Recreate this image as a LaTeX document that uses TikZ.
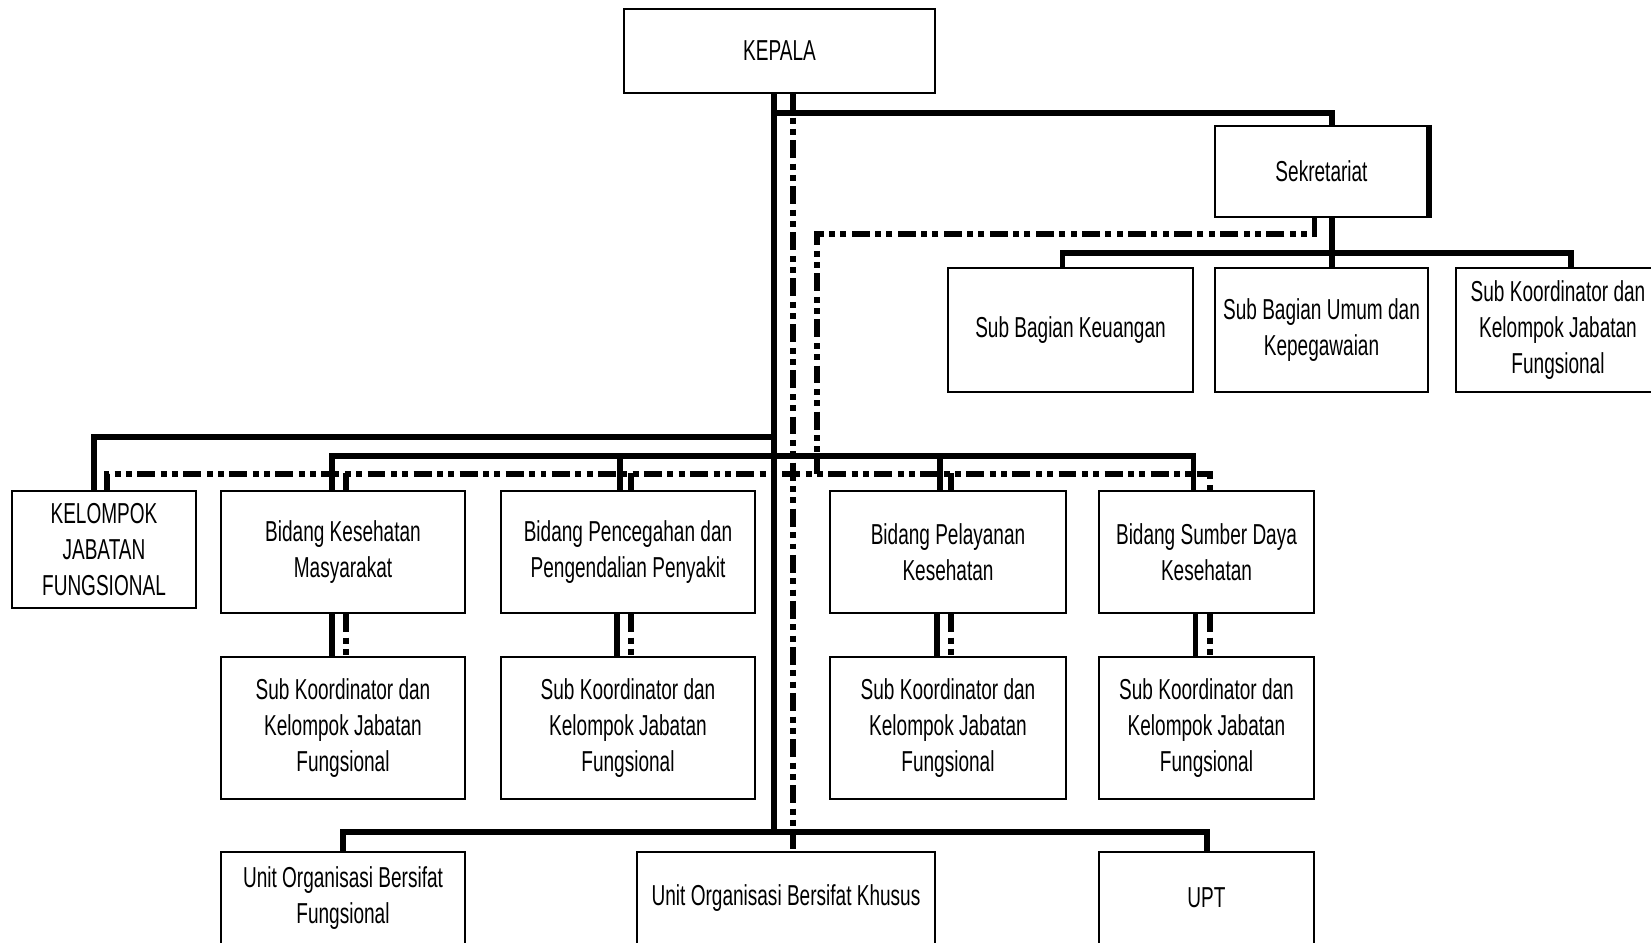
\documentclass[tikz,border=0pt]{standalone}
\usepackage{fontspec}
\setmainfont{Liberation Sans}[FakeStretch=0.66]
\usepackage{tikz}
\usetikzlibrary{positioning, calc}
\tikzset{
  unitbox/.style={rectangle,draw=black,line width=0.6pt,align=center,inner sep=0pt,font=\fontsize{8.2}{10.2}\selectfont},
  bidang/.style={unitbox,minimum height=1.22cm},
  subrow/.style={unitbox,minimum height=1.42cm},
  solidlink/.style={line width=1.7pt,black},
  dashlink/.style={line width=1.7pt,black,dash pattern=on 5.1pt off 1.6pt on 1.7pt off 1.5pt on 1.7pt off 1.5pt},
}

\begin{document}
\begin{tikzpicture}[x=0.01cm,y=-0.01cm]
	\useasboundingbox (0,0) rectangle (1651,942);
	\clip (0,0) rectangle (1651,942);
	% top
	\node[unitbox,minimum width=3.11cm,minimum height=0.84cm] (kepala) at (779.5,51) {KEPALA};
	\node[unitbox,minimum width=2.13cm,minimum height=0.91cm] (sekre) at (1321.5,171.5) {Sekretariat};
	\node[unitbox,minimum width=2.45cm,minimum height=1.24cm] (keu) at (1070.5,330) {Sub Bagian Keuangan};
	\node[unitbox,minimum width=2.13cm,minimum height=1.24cm] (umum) at (1321.5,330) {Sub Bagian Umum dan\\Kepegawaian};
	\node[unitbox,minimum width=2.04cm,minimum height=1.24cm] (sksek) at (1558,330) {Sub Koordinator dan\\Kelompok Jabatan\\Fungsional};
	% bidang row
	\node[unitbox,minimum width=1.84cm,minimum height=1.17cm] (kjf) at (104,549.5) {KELOMPOK\\JABATAN\\FUNGSIONAL};
	\node[bidang,minimum width=2.44cm] (kesmas) at (343,552) {Bidang Kesehatan\\Masyarakat};
	\node[bidang,minimum width=2.54cm] (p2p) at (628,552) {Bidang Pencegahan dan\\Pengendalian Penyakit};
	\node[bidang,minimum width=2.36cm] (yankes) at (948,552) {Bidang Pelayanan\\Kesehatan};
	\node[bidang,minimum width=2.15cm] (sdk) at (1206.5,552) {Bidang Sumber Daya\\Kesehatan};
	% sub koordinator row
	\node[subrow,minimum width=2.44cm,below=0.42cm of kesmas] (kesmas-sub) {Sub Koordinator dan\\Kelompok Jabatan\\Fungsional};
	\node[subrow,minimum width=2.54cm,below=0.42cm of p2p] (p2p-sub) {Sub Koordinator dan\\Kelompok Jabatan\\Fungsional};
	\node[subrow,minimum width=2.36cm,below=0.42cm of yankes] (yankes-sub) {Sub Koordinator dan\\Kelompok Jabatan\\Fungsional};
	\node[subrow,minimum width=2.15cm,below=0.42cm of sdk] (sdk-sub) {Sub Koordinator dan\\Kelompok Jabatan\\Fungsional};
	% bottom row
	\node[unitbox,minimum width=2.44cm,minimum height=0.92cm,anchor=north] (unitf) at (343,851) {Unit Organisasi Bersifat\\Fungsional};
	\node[unitbox,minimum width=2.98cm,minimum height=0.92cm,anchor=north] (khusus) at (786,851) {Unit Organisasi Bersifat Khusus};
	\node[unitbox,minimum width=2.15cm,minimum height=0.92cm,anchor=north] (upt) at (1206.5,851) {UPT};
	% levels of the lines
	\coordinate (t) at (774,0);
	\coordinate (d) at (793,0);
	\coordinate (topbus) at (0,113);
	\coordinate (sekdash) at (0,234);
	\coordinate (sekbus) at (0,253);
	\coordinate (kjfbus) at (0,437);
	\coordinate (bidbus) at (0,456);
	\coordinate (dashbus) at (0,474);
	\coordinate (botbus) at (0,832);
	\coordinate (sekdashx) at (817,0);
	\coordinate (sk) at ([xshift=0.13cm]sksek.north);
	\coordinate (sdkd) at ([xshift=0.03cm]sdk.north);
	% solid lines
	\draw[solidlink] (kepala.south -| t) -- (t |- botbus);
	\draw[solidlink] (t |- topbus) -| ([xshift=0.1cm]sekre.north);
	\draw[solidlink] (sekre.north east) -- (sekre.south east);
	\draw[solidlink] ([xshift=0.1cm]sekre.south) -- ([xshift=0.1cm]umum.north);
	\draw[solidlink] ([xshift=-0.08cm]keu.north) |- (sekbus -| sk) -- (sk);
	\draw[solidlink] (t |- kjfbus) -| ([xshift=-0.1cm]kjf.north);
	\draw[solidlink] ([xshift=-0.11cm]kesmas.north) |- (t |- bidbus);
	\draw[solidlink] ([xshift=-0.13cm]sdk.north) |- (t |- bidbus);
	\foreach \b in {p2p,yankes}
	  \draw[solidlink] ([xshift=-0.08cm]\b.north) -- ++(0,-35);
	\draw[solidlink] (unitf.north) |- (botbus -| upt.north) -- (upt.north);
	% dash dot lines
	\draw[dashlink] (kepala.south -| d) -- (khusus.north -| d);
	\draw[dashlink] ([xshift=-0.07cm]sekre.south) |- (sekdashx |- sekdash) -- (sekdashx |- dashbus);
	\draw[dashlink] ([xshift=0.03cm]kjf.north) |- (dashbus -| sdkd) -- (sdkd);
	\foreach \b in {kesmas,p2p,yankes}
	  \draw[dashlink] ([xshift=0.03cm]\b.north) -- ++(0,-17);
	% bidang to sub koordinator
	\foreach \b in {kesmas,p2p,yankes,sdk}{
	  \draw[solidlink] ([xshift=-0.11cm]\b.south) -- ([xshift=-0.11cm]\b-sub.north);
	  \draw[dashlink] ([xshift=0.03cm]\b.south) -- ([xshift=0.03cm]\b-sub.north);
	}
\end{tikzpicture}
\end{document}
